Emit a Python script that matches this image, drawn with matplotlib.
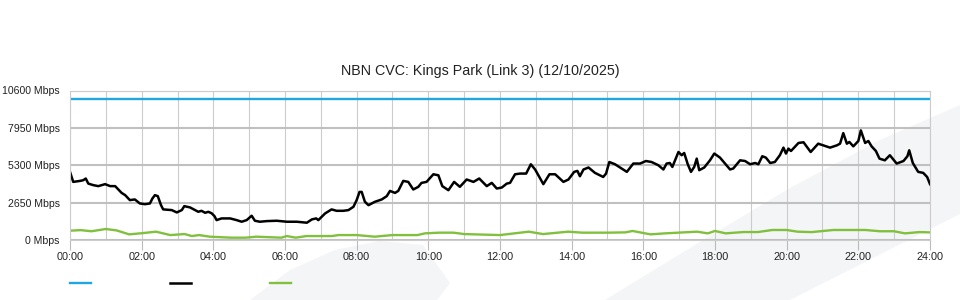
import matplotlib
matplotlib.use("Agg")
import matplotlib.pyplot as plt
from matplotlib.patches import Polygon
from matplotlib.ticker import MultipleLocator

plt.rcParams['font.family'] = ['Liberation Sans', 'DejaVu Sans']

title = "NBN CVC: Kings Park (Link 3) (12/10/2025)"

# capacity line (Mbps)
capacity = 10000

# download (black) - hour of day, Mbps
dl_hours = [0.00, 0.09, 0.28, 0.37, 0.44, 0.51, 0.65, 0.79, 0.98, 1.12, 1.26, 1.44,
            1.54, 1.67, 1.81, 1.95, 2.09, 2.23, 2.30, 2.37, 2.45, 2.54, 2.60, 2.84,
            2.98, 3.12, 3.19, 3.35, 3.49, 3.58, 3.67, 3.77, 3.86, 3.95, 4.03, 4.09,
            4.23, 4.47, 4.65, 4.79, 4.93, 5.07, 5.16, 5.30, 5.49, 5.77, 6.05, 6.33,
            6.61, 6.75, 6.87, 6.93, 7.12, 7.30, 7.44, 7.63, 7.77, 7.91, 8.00, 8.08,
            8.14, 8.23, 8.33, 8.51, 8.70, 8.84, 8.93, 9.07, 9.16, 9.30, 9.44, 9.58,
            9.72, 9.81, 9.95, 10.14, 10.28, 10.39, 10.56, 10.72, 10.88, 11.07, 11.26,
            11.42, 11.63, 11.77, 11.91, 12.05, 12.19, 12.28, 12.42, 12.56, 12.73,
            12.86, 12.98, 13.12, 13.21, 13.38, 13.54, 13.77, 13.91, 14.07, 14.16,
            14.23, 14.33, 14.47, 14.65, 14.88, 14.96, 15.05, 15.21, 15.35, 15.54,
            15.72, 15.91, 16.07, 16.23, 16.42, 16.56, 16.65, 16.74, 16.81, 16.98,
            17.07, 17.14, 17.24, 17.33, 17.42, 17.49, 17.56, 17.70, 17.86, 17.98,
            18.14, 18.28, 18.42, 18.51, 18.70, 18.84, 18.98, 19.12, 19.21, 19.32,
            19.42, 19.54, 19.67, 19.81, 19.91, 19.98, 20.05, 20.12, 20.21, 20.33,
            20.47, 20.67, 20.88, 21.02, 21.21, 21.40, 21.49, 21.58, 21.68, 21.75,
            21.86, 22.00, 22.07, 22.19, 22.28, 22.37, 22.49, 22.59, 22.74, 22.88,
            23.07, 23.26, 23.37, 23.42, 23.52, 23.67, 23.81, 23.92, 24.00]
dl_mbps = [4830, 4120, 4190, 4240, 4360, 4000, 3890, 3820, 3960, 3820, 3820, 3340,
           3180, 2830, 2875, 2590, 2540, 2590, 2945, 3180, 3110, 2470, 2170, 2120,
           1955, 2120, 2400, 2310, 2120, 2000, 2070, 1930, 2000, 1900, 1700, 1410,
           1530, 1530, 1410, 1295, 1410, 1720, 1365, 1295, 1340, 1365, 1295, 1295,
           1225, 1460, 1530, 1410, 1885, 2170, 2070, 2070, 2120, 2355, 2830, 3410,
           3410, 2710, 2470, 2710, 2875, 3110, 3480, 3340, 3480, 4190, 4120, 3580,
           3770, 4050, 4120, 4660, 4590, 3820, 3530, 4120, 3770, 4290, 4120,
           4360, 3820, 4050, 3650, 3720, 4000, 4050, 4660, 4710, 4710,
           5370, 5000, 4360, 3960, 4660, 4660, 4120, 4290, 4830, 4900,
           4520, 5000, 5140, 4760, 4470, 4710, 5530, 5370, 5140, 4830,
           5420, 5420, 5600, 5530, 5300, 5000, 5420, 5460, 5180, 6240,
           6010, 6170, 5370, 4830, 5180, 5770, 4950, 5140, 5650, 6130,
           5840, 5420, 5000, 5070, 5650, 5600, 5370, 5460, 5370, 5940,
           5840, 5460, 5530, 6010, 6550, 6130, 6480, 6310, 6550, 6880,
           6930, 6240, 6830, 6710, 6550, 6710, 6830, 7580, 6830, 6950,
           6640, 7020, 7770, 6880, 7020, 6640, 6310, 5770, 5650, 6010,
           5420, 5600, 5940, 6360, 5460, 4830, 4760, 4470, 3960]

# upload (green)
ul_hours = [0, 0.3, 0.6, 1.0, 1.3, 1.65, 2.0, 2.4, 2.8, 3.2, 3.4, 3.6, 3.9, 4.5, 4.9,
            5.2, 5.9, 6.05, 6.3, 6.6, 7.3, 7.5, 8.0, 8.5, 9.0, 9.7, 9.9, 10.3, 10.7,
            11.0, 12.0, 12.8, 13.2, 13.9, 14.3, 15.0, 15.5, 15.7, 16.2, 16.6, 17.5,
            17.8, 18.0, 18.3, 18.8, 19.2, 19.6, 20.0, 20.3, 20.7, 21.3, 22.2, 22.6,
            23.0, 23.3, 23.7, 24.0]
ul_mbps = [660, 700, 620, 780, 680, 400, 480, 590, 350, 420, 280, 350, 235, 165, 165,
           235, 165, 280, 165, 280, 280, 350, 350, 235, 350, 350, 470, 520, 520,
           420, 350, 590, 420, 590, 520, 520, 540, 640, 400, 470, 590,
           470, 640, 470, 565, 565, 710, 710, 590, 560, 710, 710, 620,
           620, 470, 560, 540]

y_ticks = [0, 2650, 5300, 7950, 10600]
y_labels = [f"{v} Mbps" for v in y_ticks]
x_ticks = list(range(0, 25, 2))
x_labels = [f"{h:02d}:00" for h in x_ticks]

fig = plt.figure(figsize=(9.6, 3.0), dpi=100)
W, H = 960, 300

# faint background shapes behind the chart
bg = "#f4f5f7"
shapes = [
    [(250, 300), (290, 270), (335, 250), (380, 241), (423, 245), (450, 283), (437, 300)],
    [(605, 300), (690, 248), (790, 188), (880, 140), (960, 105), (960, 214), (790, 300)],
]
for s in shapes:
    pts = [(x / W, 1 - y / H) for x, y in s]
    fig.patches.append(Polygon(pts, closed=True, transform=fig.transFigure,
                               facecolor=bg, edgecolor="none", zorder=-5))

ax = fig.add_axes([70 / W, 60 / H, 860 / W, 149.5 / H])
ax.set_facecolor("none")

l1, = ax.plot([0, 24], [capacity, capacity], color="#1ea7e1", lw=1.7)
l2, = ax.plot(dl_hours, dl_mbps, color="black", lw=1.8)
l3, = ax.plot(ul_hours, ul_mbps, color="#80c03c", lw=1.7)

ax.set_xlim(0, 24)
ax.set_ylim(0, 10600)
ax.set_xticks(x_ticks)
ax.set_xticklabels(x_labels)
ax.xaxis.set_minor_locator(MultipleLocator(1))
ax.set_yticks(y_ticks)
ax.set_yticklabels(y_labels)

ax.grid(True, which="both", axis="x", color="#cccccc", lw=0.8)
ax.grid(True, which="major", axis="y", color="#c0c0c0", lw=1.5)
ax.set_axisbelow(True)

for sp in ax.spines.values():
    sp.set_color("#cccccc")
    sp.set_linewidth(0.8)

ax.tick_params(axis="y", length=0, pad=7.5, labelsize=7.6, labelcolor="#222222")
ax.tick_params(axis="x", which="major", length=7, color="#bbbbbb", pad=2,
               labelsize=7.8, labelcolor="#222222")
ax.tick_params(axis="x", which="minor", length=0)

fig.text(0.5, 1 - 71 / H, title, fontsize=10.3, color="#222222",
         ha="center", va="center")

fig.legend([l1, l2, l3], ["", "", ""], loc="center left",
           bbox_to_anchor=(70 / W, 16 / H), ncol=3, frameon=False,
           handlelength=1.9, handletextpad=0, columnspacing=7.1,
           borderpad=0, borderaxespad=0, fontsize=8)

fig.savefig("out.png", dpi=100)
